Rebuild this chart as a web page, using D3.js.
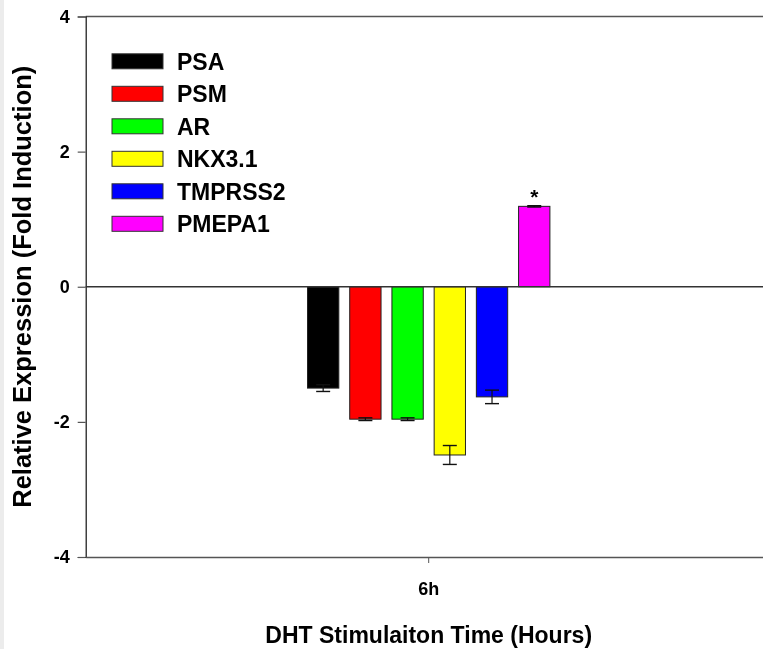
<!DOCTYPE html>
<html>
<head>
<meta charset="utf-8">
<script src="https://cdn.jsdelivr.net/npm/d3@7"></script>
<style>
  html, body { margin: 0; padding: 0; background: #fff; overflow: hidden; width: 763px; height: 649px; }
  ::-webkit-scrollbar { display: none; width: 0; height: 0; }
  html { scrollbar-width: none; }
  svg { display: block; position: fixed; left: 0; top: 0; overflow: hidden; font-family: "Liberation Sans", Arial, sans-serif; }
</style>
</head>
<body>
<svg id="chart" width="763" height="649"></svg>
<script>
// Gene expression after DHT stimulation (fold induction, relative)
const timepoints = ["6h"];
const genes = ["PSA", "PSM", "AR", "NKX3.1", "TMPRSS2", "PMEPA1"];
const values = [-1.50, -1.96, -1.96, -2.49, -1.63, 1.19];
const errors = [0.05, 0.02, 0.02, 0.14, 0.10, 0.01];
const significant = [false, false, false, false, false, true];
const colors = ["#000000", "#ff0000", "#00ff00", "#ffff00", "#0000ff", "#ff00ff"];
const yTicks = [-4, -2, 0, 2, 4];

const svg = d3.select("#chart");
const W = 763, H = 649;

// light strip along the left edge
svg.append("rect").attr("x", 0).attr("y", 0).attr("width", 4).attr("height", H).attr("fill", "#ececec");

const plot = { left: 85.7, right: 771.7, top: 16.5, bottom: 557 };

const y = d3.scaleLinear().domain([-4, 4]).range([plot.bottom, plot.top]);
const x = d3.scaleBand().domain(timepoints).range([plot.left, plot.right]);
const xc = x("6h") + x.bandwidth() / 2;
const inner = d3.scaleBand().domain(genes)
  .range([xc - 121.2, xc + 121.2]).paddingInner(0.258).paddingOuter(0);

const labelFont = "Liberation Sans, Arial, sans-serif";

// top frame line
svg.append("line").attr("x1", plot.left).attr("x2", plot.right)
  .attr("y1", y(4)).attr("y2", y(4)).attr("stroke", "#555").attr("stroke-width", 1.6);

// y axis (plain hyphen for negative numbers)
const yAxis = svg.append("g").attr("transform", `translate(${plot.left},0)`)
  .call(d3.axisLeft(y).tickValues(yTicks).tickSize(8).tickPadding(8).tickFormat(d => String(d)));
yAxis.select(".domain").attr("stroke", "#111").attr("stroke-width", 1.2);
yAxis.selectAll(".tick line").attr("stroke", "#555").attr("stroke-width", 1.2);
yAxis.selectAll(".tick text").attr("font-size", 18).attr("font-weight", "bold").attr("fill", "#000")
  .attr("font-family", labelFont);

// x axis
const xAxis = svg.append("g").attr("transform", `translate(0,${plot.bottom})`)
  .call(d3.axisBottom(x).tickSize(6).tickSizeOuter(0).tickPadding(19));
xAxis.select(".domain").attr("stroke", "#555").attr("stroke-width", 1.6);
xAxis.selectAll(".tick line").attr("stroke", "#555").attr("stroke-width", 1);
xAxis.selectAll(".tick text").attr("font-size", 18).attr("font-weight", "bold").attr("fill", "#000")
  .attr("font-family", labelFont);

// bars
const bars = svg.append("g");
genes.forEach((g, i) => {
  const v = values[i];
  const bx = inner(g), bw = inner.bandwidth();
  bars.append("rect")
    .attr("x", bx).attr("width", bw)
    .attr("y", Math.min(y(v), y(0))).attr("height", Math.abs(y(v) - y(0)))
    .attr("fill", colors[i]).attr("stroke", "#222").attr("stroke-width", 1);
  // error bar
  const cx = bx + bw / 2, cap = 7;
  const lo = y(v - errors[i]), hi = y(v + errors[i]);
  bars.append("line").attr("x1", cx).attr("x2", cx).attr("y1", lo).attr("y2", hi)
    .attr("stroke", "#111").attr("stroke-width", 1.2);
  [lo, hi].forEach(yy => bars.append("line").attr("x1", cx - cap).attr("x2", cx + cap)
    .attr("y1", yy).attr("y2", yy).attr("stroke", "#111").attr("stroke-width", 1.4));
  if (significant[i]) {
    bars.append("text").attr("x", cx).attr("y", y(v + errors[i]) - 2)
      .attr("text-anchor", "middle").attr("font-size", 21).attr("font-weight", "bold").text("*");
  }
});

// zero line
svg.append("line").attr("x1", plot.left).attr("x2", plot.right)
  .attr("y1", y(0)).attr("y2", y(0)).attr("stroke", "#333").attr("stroke-width", 1.3);

// legend
const legend = svg.append("g");
genes.forEach((g, i) => {
  const cy = 61.3 + i * 32.5;
  legend.append("rect").attr("x", 112).attr("y", cy - 7.5).attr("width", 51).attr("height", 15)
    .attr("fill", colors[i]).attr("stroke", "#333").attr("stroke-width", 1);
  legend.append("text").attr("x", 177).attr("y", cy).attr("dy", "0.36em")
    .attr("font-size", 23).attr("font-weight", "bold").text(g);
});

// axis titles
svg.append("text").attr("x", xc).attr("y", 643)
  .attr("text-anchor", "middle").attr("font-size", 23).attr("font-weight", "bold")
  .text("DHT Stimulaiton Time (Hours)");
svg.append("text").attr("transform", `translate(31,${(plot.top + plot.bottom) / 2}) rotate(-90)`)
  .attr("text-anchor", "middle").attr("font-size", 25.5).attr("font-weight", "bold")
  .text("Relative Expression (Fold Induction)");
</script>
</body>
</html>
